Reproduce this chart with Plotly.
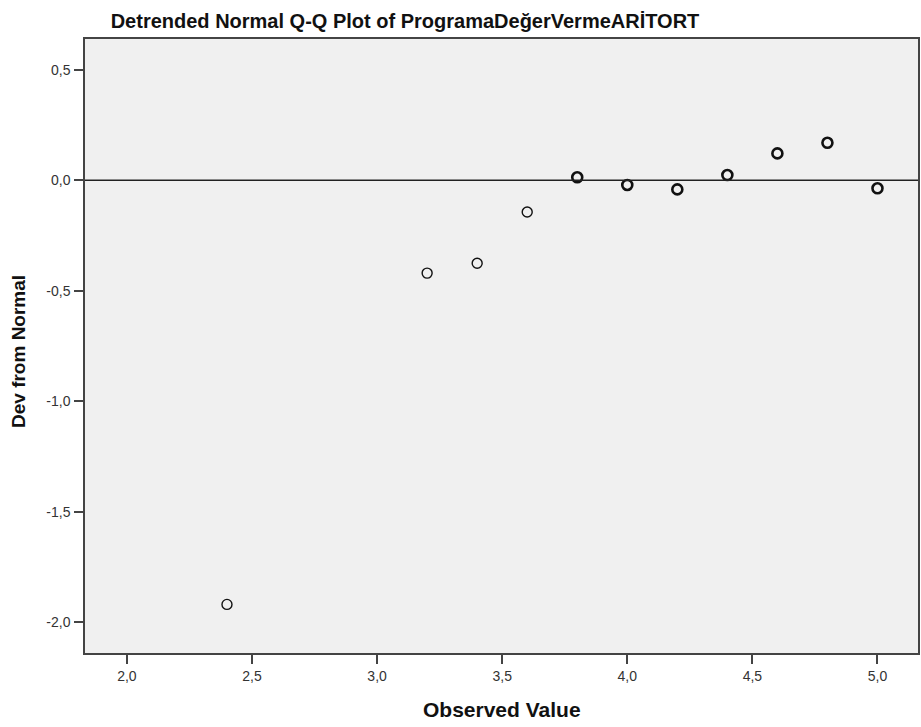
import plotly.graph_objects as go

observed = [2.4, 3.2, 3.4, 3.6, 3.8, 4.0, 4.2, 4.4, 4.6, 4.8, 5.0]
dev_from_normal = [-1.92, -0.42, -0.375, -0.143, 0.014, -0.021, -0.041, 0.024, 0.122, 0.170, -0.036]
counts = [1, 1, 1, 1, 3, 3, 3, 3, 3, 3, 3]

x_ticks = [2.0, 2.5, 3.0, 3.5, 4.0, 4.5, 5.0]
x_tick_labels = ["2,0", "2,5", "3,0", "3,5", "4,0", "4,5", "5,0"]
y_ticks = [0.5, 0.0, -0.5, -1.0, -1.5, -2.0]
y_tick_labels = ["0,5", "0,0", "-0,5", "-1,0", "-1,5", "-2,0"]

FONT = "Liberation Sans, Arial"

fig = go.Figure()
fig.add_trace(go.Scatter(
    x=observed, y=dev_from_normal, mode="markers",
    marker=dict(symbol="circle-open", size=10, color="#111111",
                line=dict(width=[1.4 if c == 1 else 2.6 for c in counts], color="#111111")),
    showlegend=False, cliponaxis=False,
))
fig.add_shape(type="line", xref="paper", x0=0, x1=1, yref="y", y0=0, y1=0,
              line=dict(color="#222222", width=1.5))

axis_common = dict(showgrid=False, zeroline=False, showline=True, linecolor="#444444",
                   linewidth=1.5, mirror=True, ticks="outside", ticklen=9, tickwidth=2,
                   tickcolor="#444444", tickfont=dict(family=FONT, size=14, color="#333333"))
fig.update_xaxes(range=[1.8325, 5.162], tickvals=x_ticks, ticktext=x_tick_labels, **axis_common)
fig.update_yaxes(range=[-2.14, 0.64], tickvals=y_ticks, ticktext=y_tick_labels,
                 ticklabelstandoff=1, **axis_common)

fig.add_annotation(text="<b>Observed Value</b>", xref="paper", yref="paper", x=0.5, y=0,
                   xanchor="center", yanchor="middle", yshift=-56, showarrow=False,
                   font=dict(family=FONT, size=21, color="#111111"))
fig.add_annotation(text="<b>Dev from Normal</b>", xref="paper", yref="paper", x=0, y=0.5,
                   xanchor="center", yanchor="middle", xshift=-67, yshift=-6, textangle=-90,
                   showarrow=False, font=dict(family=FONT, size=19, color="#111111"))

fig.update_layout(
    width=921, height=727,
    margin=dict(l=85, r=1, t=39, b=74),
    plot_bgcolor="#F0F0F0", paper_bgcolor="#FFFFFF",
    title=dict(text="<b>Detrended Normal Q-Q Plot of ProgramaDeğerVermeARİTORT</b>",
               font=dict(family=FONT, size=20, color="#111111"),
               xref="container", yref="container",
               x=405 / 921, xanchor="center", y=1 - 20.5 / 727, yanchor="middle"),
)
fig.write_html("out.html", config={"displayModeBar": False},
               post_script="document.body.style.margin='0';document.body.style.overflow='hidden';")
